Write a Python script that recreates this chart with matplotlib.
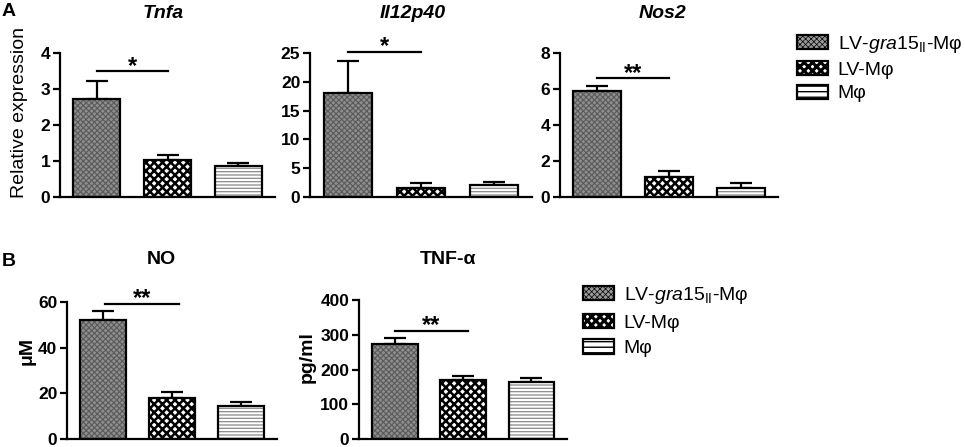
import matplotlib
matplotlib.use("Agg")
import matplotlib.pyplot as plt
from matplotlib.patches import Patch
import numpy as np

plt.rcParams["font.family"] = ["Liberation Sans", "DejaVu Sans"]
plt.rcParams["mathtext.fontset"] = "custom"
plt.rcParams["mathtext.rm"] = "Liberation Sans"
plt.rcParams["mathtext.it"] = "Liberation Sans:italic"
plt.rcParams["mathtext.bf"] = "Liberation Sans:bold"

# ---- data ----
groups = [r"LV-$\mathit{gra15}_{\mathrm{II}}$-Mφ", "LV-Mφ", "Mφ"]

tnfa_mean = [2.72, 1.02, 0.86]
tnfa_err = [0.51, 0.16, 0.09]
il12_mean = [18.0, 1.55, 2.15]
il12_err = [5.66, 0.85, 0.45]
nos2_mean = [5.91, 1.12, 0.50]
nos2_err = [0.27, 0.35, 0.30]
no_mean = [52.0, 17.8, 14.6]
no_err = [3.9, 2.6, 1.4]
tnf_mean = [272.5, 169.8, 165.0]
tnf_err = [17.2, 12.2, 11.4]

# significance bars: (height, label)
sig_tnfa = (3.49, "*")
sig_il12 = (25.2, "*")
sig_nos2 = (6.6, "**")
sig_no = (59.1, "**")
sig_tnf = (310.8, "**")

# ---- styles per group: face, hatch, hatch colour, hatch linewidth ----
STYLES = [
    ("#8e8e8e", "xxxxxx", "#5a5a5a", 0.8),
    ("white", "xxxx", "black", 1.8),
    ("white", "-----", "#8a8a8a", 0.9),
]
# legend swatches (hatch drawn in the edge colour there)
LEG_STYLES = [
    ("#9a9a9a", "xxxxxx", 0.5),
    ("white", "xxxx", 2.2),
    ("white", "---", 1.0),
]

FS = 14
W, H = 965, 447
fig = plt.figure(figsize=(W / 100, H / 100), dpi=100)


def px_axes(x0, x1, ytop, ybot):
    return fig.add_axes([x0 / W, 1 - ybot / H, (x1 - x0) / W, (ybot - ytop) / H])


def panel(ax, means, errs, ymax, step, sig, x_sig=(0.0, 1.0)):
    x = np.arange(len(means))
    for i, (m, e) in enumerate(zip(means, errs)):
        face, hatch, hc, hlw = STYLES[i]
        with plt.rc_context({"hatch.linewidth": hlw}):
            ax.bar(x[i], m, width=0.67, color=face, hatch=hatch, edgecolor=hc,
                   linewidth=0, zorder=2)
        ax.bar(x[i], m, width=0.67, fill=False, edgecolor="black",
               linewidth=1.6, zorder=3)
        ax.errorbar(x[i], m, yerr=[[0], [e]], fmt="none", ecolor="black",
                    elinewidth=1.6, capsize=8, capthick=1.6, zorder=1)
    h, lab = sig
    ax.plot([x_sig[0], x_sig[1]], [h, h], color="black", lw=1.6, clip_on=False)
    ax.annotate(lab, (np.mean(x_sig), h), xytext=(0, -1),
                textcoords="offset points", ha="center", va="baseline",
                fontsize=17, fontweight="bold", annotation_clip=False)
    ax.set_xlim(-0.52, 2.52)
    ax.set_ylim(0, ymax)
    ax.set_yticks(np.arange(0, ymax + step / 2, step))
    ax.set_xticks([])
    for s in ["top", "right"]:
        ax.spines[s].set_visible(False)
    for s in ["left", "bottom"]:
        ax.spines[s].set_linewidth(1.6)
    ax.tick_params(axis="y", direction="out", length=5, width=1.6,
                   labelsize=12.5, pad=2)
    for t in ax.get_yticklabels():
        t.set_fontweight("bold")


ax1 = px_axes(60, 275, 53, 197)
panel(ax1, tnfa_mean, tnfa_err, 4, 1, sig_tnfa)
ax2 = px_axes(310, 532, 53, 197)
panel(ax2, il12_mean, il12_err, 25, 5, sig_il12)
ax3 = px_axes(560, 778, 53, 197)
panel(ax3, nos2_mean, nos2_err, 8, 2, sig_nos2)
ax4 = px_axes(67, 277, 302, 439)
panel(ax4, no_mean, no_err, 60, 20, sig_no, x_sig=(0.03, 1.1))
ax5 = px_axes(359, 567, 300, 439)
panel(ax5, tnf_mean, tnf_err, 400, 100, sig_tnf, x_sig=(0.0, 1.08))

# titles and panel letters
fig.text(163 / W, 1 - 13 / H, "Tnfa", ha="center", va="center", fontsize=FS,
         fontweight="bold", fontstyle="italic")
fig.text(413 / W, 1 - 13 / H, "Il12p40", ha="center", va="center", fontsize=FS,
         fontweight="bold", fontstyle="italic")
fig.text(663 / W, 1 - 13 / H, "Nos2", ha="center", va="center", fontsize=FS,
         fontweight="bold", fontstyle="italic")
fig.text(161 / W, 1 - 259 / H, "NO", ha="center", va="center", fontsize=FS,
         fontweight="bold")
fig.text(448 / W, 1 - 259 / H, "TNF-α", ha="center", va="center", fontsize=FS,
         fontweight="bold")
fig.text(9 / W, 1 - 12 / H, "A", ha="center", va="center", fontsize=FS,
         fontweight="bold")
fig.text(9 / W, 1 - 262 / H, "B", ha="center", va="center", fontsize=FS,
         fontweight="bold")

# y labels
fig.text(20 / W, 1 - 113 / H, "Relative expression", rotation=90, ha="center",
         va="center", fontsize=FS)
fig.text(27 / W, 1 - 351 / H, "μM", rotation=90, ha="center", va="center",
         fontsize=FS, fontweight="bold")
fig.text(307 / W, 1 - 357 / H, "pg/ml", rotation=90, ha="center", va="center",
         fontsize=FS, fontweight="bold")

# legends
handles = [Patch(facecolor=f, hatch=h, edgecolor="black", linewidth=1.6)
           for f, h, _ in LEG_STYLES]
for x0, y0, sp in [(797, 34, 0.3), (583, 285, 0.4)]:
    leg = fig.legend(handles, groups, loc="upper left",
                     bbox_to_anchor=(x0 / W, 1 - y0 / H), frameon=False,
                     fontsize=FS, handlelength=1.6, handleheight=0.75,
                     handletextpad=0.5, labelspacing=sp, borderpad=0,
                     borderaxespad=0)
    for p, (_, _, hlw) in zip(leg.get_patches(), LEG_STYLES):
        if hasattr(p, "set_hatch_linewidth"):
            p.set_hatch_linewidth(hlw)
        else:
            p._hatch_linewidth = hlw

fig.savefig("out.png", dpi=100, facecolor="white")
